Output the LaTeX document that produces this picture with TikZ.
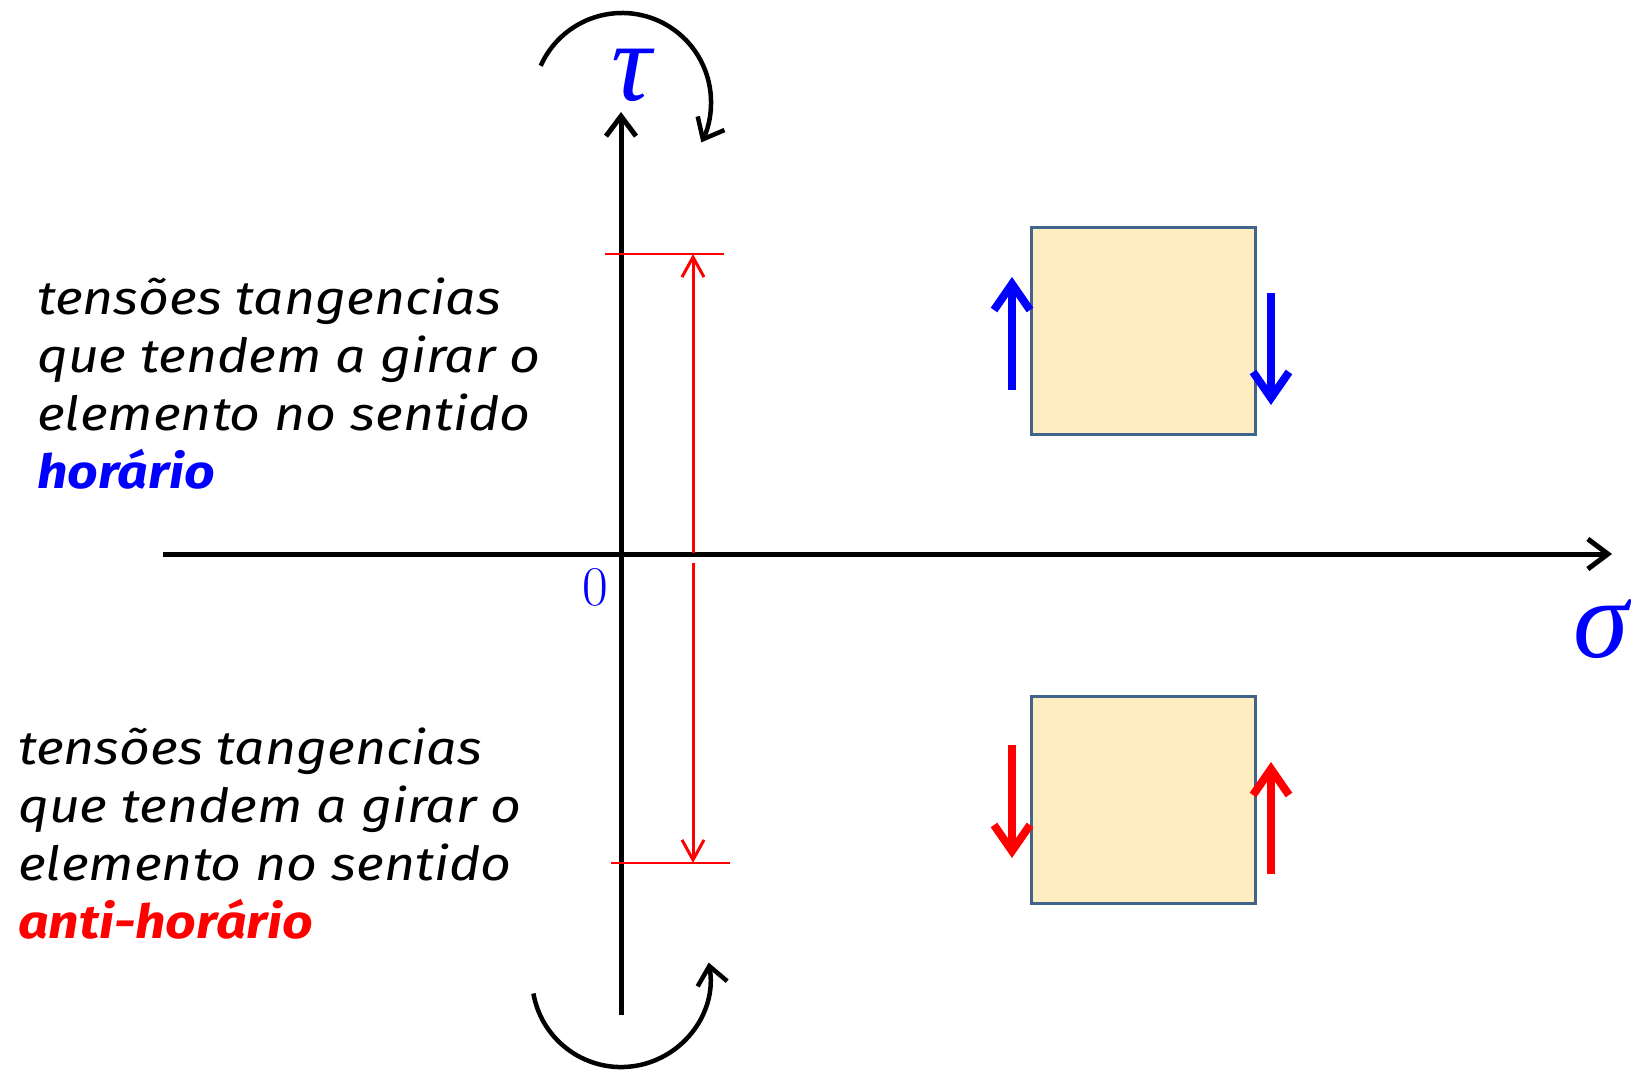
\documentclass[tikz,border=0pt]{standalone}
\usepackage{fontspec}
\usetikzlibrary{arrows.meta}
\newfontfamily\hand[FakeStretch=1.14]{Fira Sans}
\newfontfamily\greekit{Liberation Serif}
\definecolor{boxfill}{HTML}{FDEDC0}
\definecolor{boxline}{HTML}{41648C}
\definecolor{pblue}{HTML}{0000FF}
\definecolor{pred}{HTML}{FF0000}
\tikzset{
  axis/.style={line width=5pt, -{Straight Barb[length=20pt,width=30pt]}},
  plainaxis/.style={line width=5pt},
  rot/.style={line width=4.5pt, -{Straight Barb[length=18pt,width=30pt]}},
  redline/.style={pred, line width=2pt},
  redarrow/.style={pred, line width=3pt, -{Straight Barb[length=20pt,width=22pt]}},
  thickarrow/.style={line width=8pt, -{Straight Barb[length=26pt,width=36pt]}},
  elem/.style={draw=boxline, fill=boxfill, line width=3pt, inner sep=0pt, minimum width=224pt, minimum height=207pt},
  txt/.style={anchor=base west, inner sep=0pt, font=\hand\itshape\fontsize{47}{52}\selectfont},
  sym/.style={pblue, inner sep=0pt}
}
\begin{document}
\begin{tikzpicture}[x=1pt, y=-1pt]
\useasboundingbox (0,0) rectangle (1631,1073);
% axes
\coordinate (O) at (621,554);
\coordinate (ytop) at (621,112);
\coordinate (ybot) at (621,1015);
\coordinate (xleft) at (163,554);
\coordinate (xright) at (1612,554);
\draw[plainaxis] (O) -- (ybot);
\draw[axis] (O) -- (ytop);
\draw[plainaxis] (O) -- (xleft);
\draw[axis] (O) -- (xright);
% labels
\node[sym, font=\greekit\itshape\fontsize{112}{112}\selectfont] (tau) at (632,75) {τ};
\node[sym, font=\greekit\itshape\fontsize{112}{112}\selectfont, anchor=east] (sigma) at (1629,629) {σ};
\node[sym, font=\fontsize{56}{56}\selectfont] (zero) at (595,587) {0};
% rotation arcs
\draw[rot] (540.7,65.8) arc[start angle=-156, end angle=27, radius=89];
\draw[rot] (533.4,993.5) arc[start angle=-190, end angle=-370, radius=89];
% red range
\coordinate (rt1) at (605,254);
\coordinate (rt2) at (724,254);
\coordinate (rb1) at (611,863);
\coordinate (rb2) at (730,863);
\coordinate (rtop) at (693,254);
\coordinate (rbot) at (693,863);
\coordinate (rmid1) at (693,553);
\coordinate (rmid2) at (693,563);
\draw[redline] (rt1) -- (rt2);
\draw[redline] (rb1) -- (rb2);
\draw[redarrow] (rmid1) -- (rtop);
\draw[redarrow] (rmid2) -- (rbot);
% elements
\node[elem] (b1) at (1143,330.5) {};
\node[elem] (b2) at (1143,799.5) {};
\coordinate (u1s) at (1012,390);
\coordinate (u1e) at (1012,277);
\coordinate (u2s) at (1271,293);
\coordinate (u2e) at (1271,405);
\coordinate (l1s) at (1012,745);
\coordinate (l1e) at (1012,858);
\coordinate (l2s) at (1271,874);
\coordinate (l2e) at (1271,762);
\draw[thickarrow, pblue] (u1s) -- (u1e);
\draw[thickarrow, pblue] (u2s) -- (u2e);
\draw[thickarrow, pred] (l1s) -- (l1e);
\draw[thickarrow, pred] (l2s) -- (l2e);
% texts
\node[txt] (a1) at (37,314) {tensões tangencias};
\node[txt] (a2) at (37,372) {que tendem a girar o};
\node[txt] (a3) at (37,430) {elemento no sentido};
\node[txt, pblue, font=\hand\bfseries\itshape\fontsize{47}{52}\selectfont] (a4) at (37,488) {horário};
\node[txt] (c1) at (18,764) {tensões tangencias};
\node[txt] (c2) at (18,822) {que tendem a girar o};
\node[txt] (c3) at (18,880) {elemento no sentido};
\node[txt, pred, font=\hand\bfseries\itshape\fontsize{47}{52}\selectfont] (c4) at (18,938) {anti-horário};
\end{tikzpicture}
\end{document}
